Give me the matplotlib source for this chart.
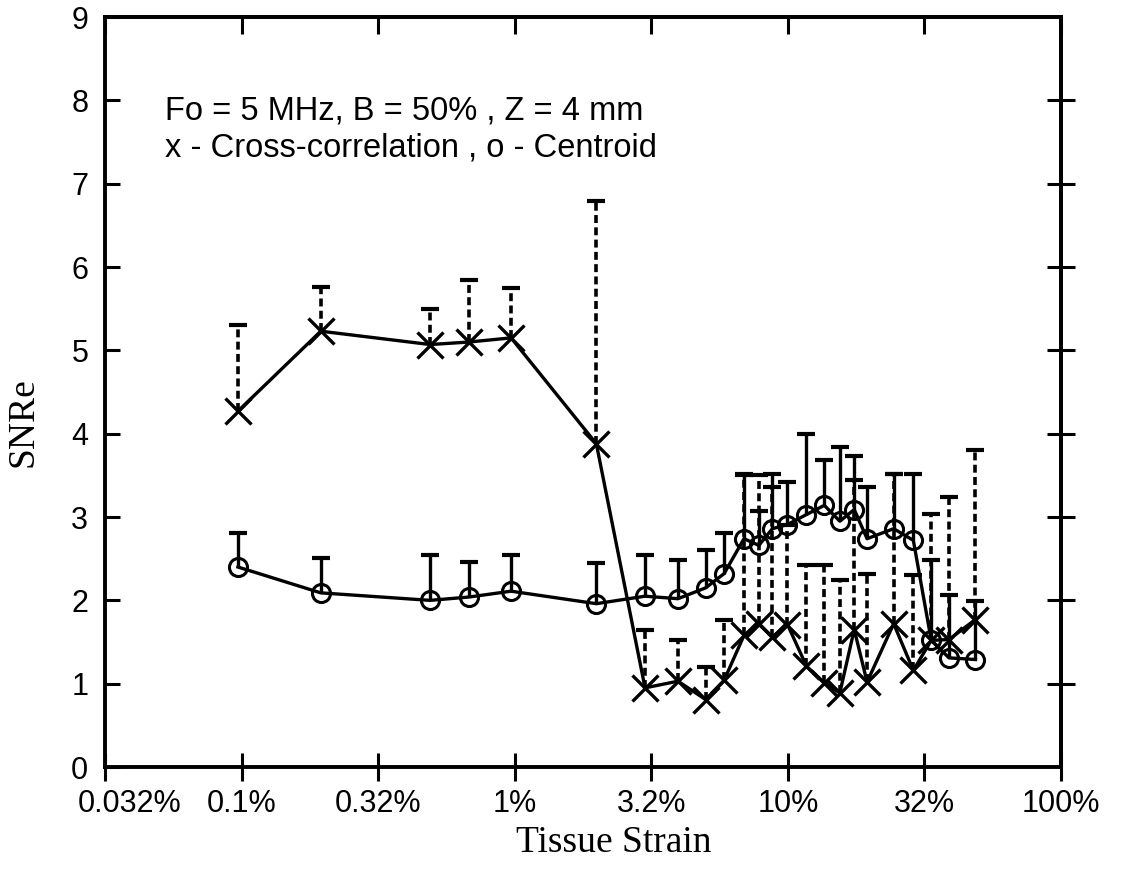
import matplotlib
matplotlib.use('Agg')
import matplotlib.pyplot as plt
import matplotlib.transforms as mtransforms
from matplotlib.ticker import NullLocator


########################################################################################################################
# DATA
########################################################################################################################

# tissue strain, in %
STRAIN = [0.097, 0.195, 0.49, 0.68, 0.97, 1.99, 3.0, 3.96, 5.0, 5.84, 6.91, 7.83,
          8.78, 9.97, 11.7, 13.6, 15.5, 17.5, 19.5, 24.4, 28.8, 33.5, 38.9, 48.6]

# x - cross-correlation: mean SNRe and top of the (dashed) error bar
SNR_XCORR = [4.27, 5.23, 5.07, 5.10, 5.15, 3.88, 0.95, 1.03, 0.81, 1.04, 1.58, 1.72,
             1.56, 1.71, 1.21, 1.01, 0.89, 1.65, 1.02, 1.72, 1.16, 1.52, 1.53, 1.77]
SNR_XCORR_TOP = [5.31, 5.76, 5.50, 5.84, 5.75, 6.79, 1.64, 1.52, 1.20, 1.76, 3.50, 3.50,
                 3.36, 2.90, 2.43, 2.43, 2.24, 3.45, 2.32, 3.52, 2.31, 3.04, 3.24, 3.81]

# o - centroid: mean SNRe and top of the (solid) error bar
SNR_CENTROID = [2.40, 2.09, 2.00, 2.04, 2.11, 1.96, 2.05, 2.02, 2.15, 2.32, 2.74, 2.66,
                2.86, 2.91, 3.03, 3.14, 2.95, 3.09, 2.74, 2.86, 2.72, 1.52, 1.31, 1.29]
SNR_CENTROID_TOP = [2.81, 2.51, 2.54, 2.46, 2.55, 2.45, 2.55, 2.48, 2.61, 2.81, 3.52, 3.07,
                    3.52, 3.42, 4.00, 3.68, 3.84, 3.73, 3.36, 3.52, 3.52, 2.48, 2.07, 1.99]

XTICKS = [10 ** -1.5, 0.1, 10 ** -0.5, 1.0, 10 ** 0.5, 10.0, 10 ** 1.5, 100.0]
XTICK_LABELS = ['0.032%', '0.1%', '0.32%', '1%', '3.2%', '10%', '32%', '100%']
YTICKS = list(range(10))

NOTE_1 = 'Fo = 5 MHz, B = 50% , Z = 4 mm'
NOTE_2 = 'x - Cross-correlation , o - Centroid'


########################################################################################################################
# STYLE
########################################################################################################################

SANS = 'Liberation Sans'
SERIF = 'Liberation Serif'
TICK_SIZE = 22
NOTE_SIZE = 23.5
LABEL_SIZE = 27
LW = 2.4
SPINE_LW = 2.8
DASHES = (0, (2.2, 1.2))

plt.rcParams['font.family'] = SANS


########################################################################################################################
# PLOT
########################################################################################################################

fig = plt.figure(figsize=(11.35, 8.74), dpi=100)
ax = fig.add_axes([0.0925, 0.1224, 0.8423, 0.8581])

# error bars (upper only)
ax.vlines(STRAIN, SNR_CENTROID, SNR_CENTROID_TOP, colors='k', lw=LW)
ax.plot(STRAIN, SNR_CENTROID_TOP, ls='none', marker='_', ms=13, mew=3, color='k')
ax.vlines(STRAIN, SNR_XCORR, SNR_XCORR_TOP, colors='k', lw=2.6, linestyles=DASHES)
ax.plot(STRAIN, SNR_XCORR_TOP, ls='none', marker='_', ms=13, mew=3, color='k')

# the two estimators
ax.plot(STRAIN, SNR_XCORR, color='k', lw=LW, marker='x', ms=19, mew=2.4)
ax.plot(STRAIN, SNR_CENTROID, color='k', lw=LW, marker='o', ms=13, mfc='none', mew=2.2)

ax.set_xscale('log')
ax.set_xlim(XTICKS[0], XTICKS[-1])
ax.set_ylim(0, 9)
ax.set_xticks(XTICKS, XTICK_LABELS)
ax.xaxis.set_minor_locator(NullLocator())
ax.set_yticks(YTICKS)

[s.set_linewidth(SPINE_LW) for s in ax.spines.values()]
ax.tick_params(axis='x', direction='inout', length=20, width=2.2, top=False, pad=6, labelsize=TICK_SIZE)
ax.tick_params(axis='y', direction='in', length=11, width=2.2, right=False, pad=12, labelsize=TICK_SIZE)

# 0.032% label sits right of the corner
first = ax.get_xticklabels()[0]
first.set_transform(first.get_transform() + mtransforms.ScaledTranslation(0.25, 0, fig.dpi_scale_trans))

# top and right ticks
top = ax.secondary_xaxis('top')
top.set_xticks(XTICKS)
top.xaxis.set_minor_locator(NullLocator())
top.tick_params(direction='in', length=12, width=2.2, labeltop=False)
top.spines['top'].set_linewidth(SPINE_LW)

right = ax.secondary_yaxis('right')
right.set_yticks(YTICKS[1:-1])
right.tick_params(direction='inout', length=20, width=2.2, labelright=False)
right.spines['right'].set_linewidth(SPINE_LW)

ax.set_xlabel('Tissue Strain', family=SERIF, fontsize=LABEL_SIZE, va='center')
ax.xaxis.set_label_coords(0.532, -0.101)
ax.set_ylabel('SNRe', family=SERIF, fontsize=LABEL_SIZE, va='center')
ax.yaxis.set_label_coords(-0.085, 0.46)

ax.text(0.063, 0.863, NOTE_1, fontsize=NOTE_SIZE, va='baseline', transform=ax.transAxes)
ax.text(0.063, 0.814, NOTE_2, fontsize=NOTE_SIZE, va='baseline', transform=ax.transAxes)

fig.savefig('out.png', dpi=100)
